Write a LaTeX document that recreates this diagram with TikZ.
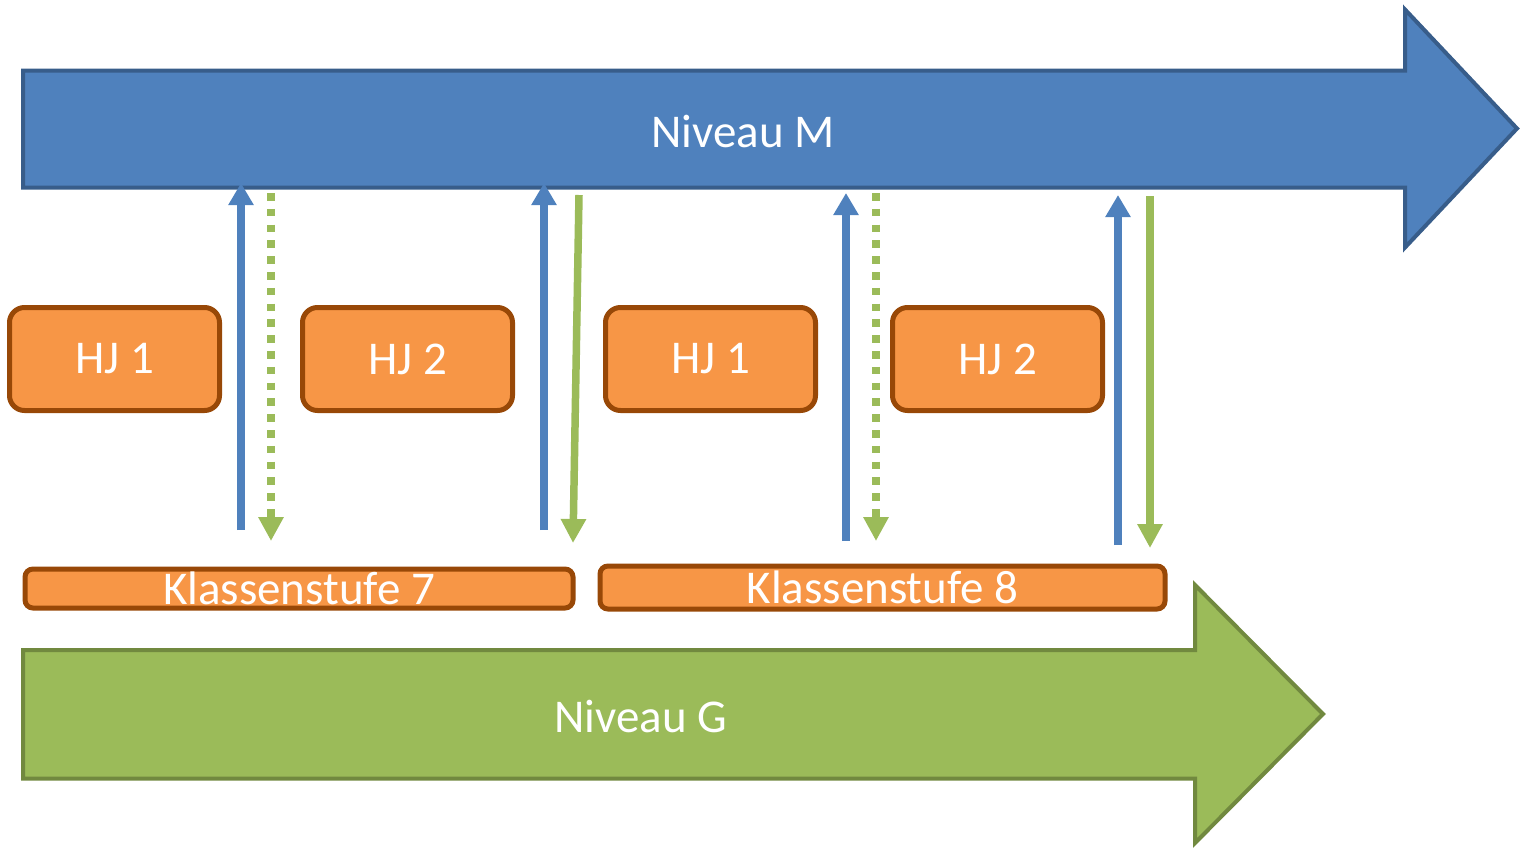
\documentclass[tikz,border=0pt]{standalone}
\usepackage{fontspec}
\setmainfont{Carlito}
\usetikzlibrary{arrows.meta}
\definecolor{mblue}{HTML}{4F81BD}
\definecolor{mblueD}{HTML}{385D8A}
\definecolor{ggreen}{HTML}{9BBB59}
\definecolor{ggreenD}{HTML}{71893F}
\definecolor{oorange}{HTML}{F79646}
\definecolor{oorangeD}{HTML}{984807}
\begin{document}
\begin{tikzpicture}[x=1pt,y=-1pt,
  bigM/.style={fill=mblue,draw=mblueD,line width=4pt,line join=miter},
  bigG/.style={fill=ggreen,draw=ggreenD,line width=4pt,line join=miter},
  bigtext/.style={text=white,font=\fontsize{47}{56}\selectfont,inner sep=0pt},
  hjbox/.style={draw=oorangeD,fill=oorange,line width=5pt,rounded corners=15pt,
    minimum width=210pt,minimum height=103pt,text=white,
    font=\fontsize{47}{56}\selectfont,inner sep=0pt},
  ksbox/.style={draw=oorangeD,fill=oorange,line width=5pt,rounded corners=8pt,
    text=white,font=\fontsize{47}{56}\selectfont,inner sep=0pt},
  upblue/.style={draw=mblue,line width=8pt,-{Triangle[width=24pt,length=22pt]}},
  downgreen/.style={draw=ggreen,line width=7.5pt,-{Triangle[width=24pt,length=24pt]}},
  dashgreen/.style={downgreen,dash pattern=on 7.5pt off 8.3pt},
]
\useasboundingbox (0,0) rectangle (1521,847);

% big arrows
\draw[bigM] (23,70.5) -- (1405,70.5) -- (1405,9.5) -- (1517,128.5) -- (1405,247.5) -- (1405,187.5) -- (23,187.5) -- cycle;
\node[bigtext] (nivM) at (743,131) {Niveau M};

\draw[bigG] (23,650) -- (1195,650) -- (1195,585) -- (1323,714) -- (1195,843) -- (1195,778.5) -- (23,778.5) -- cycle;
\node[bigtext] (nivG) at (641,716) {Niveau G};

% boxes
\node[hjbox] (hj1a) at (114.5,359) {HJ 1};
\node[hjbox] (hj2a) at (407.5,359) {HJ 2};
\node[hjbox] (hj1b) at (710.5,359) {HJ 1};
\node[hjbox] (hj2b) at (997.5,359) {HJ 2};
\node[ksbox,minimum width=548pt,minimum height=39pt] (ks7) at (299,588.5) {Klassenstufe 7};
\node[ksbox,minimum width=565pt,minimum height=43pt] (ks8) at (882.5,587.5) {Klassenstufe 8};

% connector end points
\coordinate (b1s) at (241,530);  \coordinate (b1e) at (241,183);
\coordinate (g1s) at (271,193);  \coordinate (g1e) at (271,541);
\coordinate (b2s) at (544,530);  \coordinate (b2e) at (544,183);
\coordinate (g2s) at (579,195);  \coordinate (g2e) at (573,543);
\coordinate (b3s) at (846,541);  \coordinate (b3e) at (846,193);
\coordinate (g3s) at (876,193);  \coordinate (g3e) at (876,541);
\coordinate (b4s) at (1118,545); \coordinate (b4e) at (1118,195);
\coordinate (g4s) at (1150,196); \coordinate (g4e) at (1150,548);

\draw[upblue] (b1s) -- (b1e);
\draw[dashgreen] (g1s) -- (g1e);
\draw[upblue] (b2s) -- (b2e);
\draw[downgreen] (g2s) -- (g2e);
\draw[upblue] (b3s) -- (b3e);
\draw[dashgreen] (g3s) -- (g3e);
\draw[upblue] (b4s) -- (b4e);
\draw[downgreen] (g4s) -- (g4e);
\end{tikzpicture}
\end{document}
